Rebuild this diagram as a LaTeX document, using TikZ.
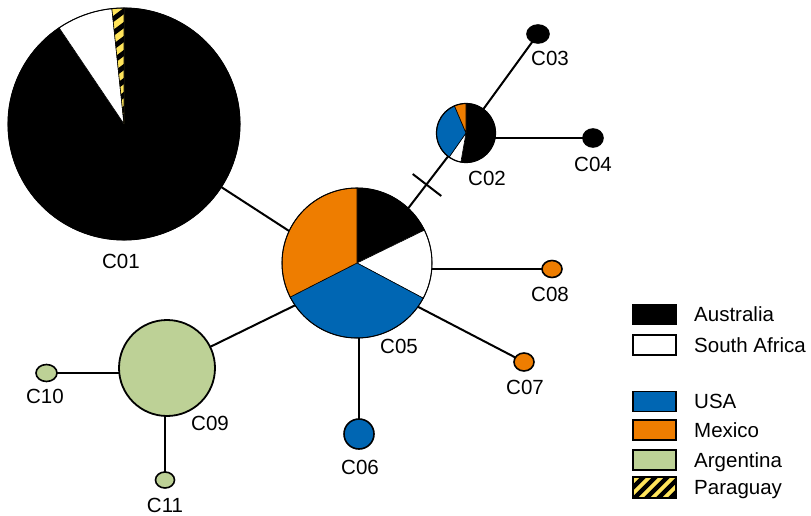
\documentclass[tikz,border=0pt]{standalone}
\usepackage{fontspec}
\setmainfont{Liberation Sans}
\usetikzlibrary{shapes.geometric,calc,backgrounds}
\definecolor{cblue}{RGB}{0,102,179}
\definecolor{corange}{RGB}{238,125,0}
\definecolor{cgreen}{RGB}{189,209,150}
\definecolor{cyellow}{RGB}{255,228,90}
\newcommand{\pieslice}[5]{\filldraw[fill=#5,draw=black,line width=0.6pt] (#1) -- ++(#3:#2) arc[start angle=#3,end angle=#4,radius=#2] -- cycle;}
\begin{document}
\begin{tikzpicture}[x=1pt,y=1pt,
  pienode/.style={circle,inner sep=0pt,minimum size=#1},
  hap/.style={ellipse,draw=black,line width=1.6pt,inner sep=0pt},
  edge/.style={line width=2pt},
  lab/.style={font=\fontsize{20.5}{24}\selectfont,inner sep=0pt},
  legbox/.style={draw=black,line width=1.2pt,minimum width=43pt,minimum height=20pt,inner sep=0pt},
  legtext/.style={font=\fontsize{20.5}{24}\selectfont,inner sep=0pt,anchor=base west}]
\useasboundingbox (0,0) rectangle (811,515);
% nodes
\node[pienode=232pt] (c01) at (124,391) {};
\node[pienode=59pt] (c02) at (466,382) {};
\node[hap,fill=black,minimum width=22pt,minimum height=18pt] (c03) at (538,481) {};
\node[hap,fill=black,minimum width=20pt,minimum height=18pt] (c04) at (593,377) {};
\node[pienode=150pt] (c05) at (357,252) {};
\node[hap,fill=cblue,minimum width=30pt,minimum height=30pt] (c06) at (359,81) {};
\node[hap,fill=corange,minimum width=20pt,minimum height=18pt] (c07) at (524,153) {};
\node[hap,fill=corange,minimum width=20pt,minimum height=17pt] (c08) at (552,246) {};
\node[circle,draw=black,line width=1.8pt,fill=cgreen,inner sep=0pt,minimum size=96pt] (c09) at (167,147) {};
\node[hap,fill=cgreen,minimum width=21pt,minimum height=17pt] (c10) at (46.5,142) {};
\node[hap,fill=cgreen,minimum width=19pt,minimum height=16pt] (c11) at (165,35) {};
\coordinate (hub) at (357,240);
% edges (behind nodes)
\begin{scope}[on background layer]
\draw[edge] (hub) -- (c01.center);
\draw[edge] (hub) -- (c02.center);
\draw[edge] (c06.center) -- (c06 |- hub);
\draw[edge] (hub) -- (c07.center);
\draw[edge] (c08.center) -- (c08 -| hub);
\draw[edge] (hub) -- (c09.center);
\draw[edge] (c02.center) -- (c03.center);
\draw[edge] (c04.center) -- (c04 -| c02);
\draw[edge] (c10.center) -- (c10 -| c09);
\draw[edge] (c11.center) -- (c11 |- c09);
\end{scope}
\coordinate (t1) at (412.7,341);
\coordinate (t2) at (441.3,319);
\draw[edge] (t1) -- (t2);
% pies
\pieslice{c01.center}{116}{124}{450}{black}
\pieslice{c01.center}{116}{96}{124}{white}
\begin{scope}
\clip (c01.center) -- ++(90:116) arc[start angle=90,end angle=96,radius=116] -- cycle;
\fill[cyellow] (100,380) rectangle (140,512);
\foreach \k in {0,...,11} \draw[line width=5pt] (100,360+\k*14) -- ++(40,30);
\end{scope}
\draw[line width=0.6pt] (c01.center) -- ++(90:116) arc[start angle=90,end angle=96,radius=116] -- cycle;
\draw[line width=1pt] (c01.center) circle[radius=116];
\pieslice{c02.center}{29.5}{-100}{90}{black}
\pieslice{c02.center}{29.5}{235}{260}{white}
\pieslice{c02.center}{29.5}{113}{235}{cblue}
\pieslice{c02.center}{29.5}{90}{113}{corange}
\draw[line width=1.2pt] (c02.center) circle[radius=29.5];
\pieslice{c05.center}{75}{26}{90}{black}
\pieslice{c05.center}{75}{-28}{26}{white}
\pieslice{c05.center}{75}{207}{332}{cblue}
\pieslice{c05.center}{75}{90}{207}{corange}
\draw[line width=1pt] (c05.center) circle[radius=75];
% labels
\node[lab] (l01) at (121,254) {C01};
\node[lab] (l02) at (487,337) {C02};
\node[lab] (l03) at (550,456.5) {C03};
\node[lab] (l04) at (593,350.5) {C04};
\node[lab] (l05) at (399,169) {C05};
\node[lab] (l06) at (360,48) {C06};
\node[lab] (l07) at (525,128) {C07};
\node[lab] (l08) at (550,221) {C08};
\node[lab] (l09) at (210,92) {C09};
\node[lab] (l10) at (45,119) {C10};
\node[lab] (l11) at (165,10) {C11};
% legend
\node[legbox,fill=black] (kA) at (654.5,200.5) {};
\node[legbox,fill=white] (kS) at (654.5,170) {};
\node[legbox,fill=cblue] (kU) at (654.5,113.5) {};
\node[legbox,fill=corange] (kM) at (654.5,85) {};
\node[legbox,fill=cgreen] (kR) at (654.5,55) {};
\node[legbox,fill=cyellow] (kP) at (654.5,27.5) {};
\begin{scope}
\clip (kP.south west) rectangle (kP.north east);
\foreach \k in {-3,...,4} \draw[line width=4.5pt] ($(kP.south west)+(\k*12,-2)$) -- ++(24,24);
\end{scope}
\draw[line width=1.2pt] (kP.south west) rectangle (kP.north east);
\node[legtext] at (694,193.2) {Australia};
\node[legtext] at (694,162.7) {South Africa};
\node[legtext] at (694,106.2) {USA};
\node[legtext] at (694,77.7) {Mexico};
\node[legtext] at (694,47.7) {Argentina};
\node[legtext] at (694,20.2) {Paraguay};
\end{tikzpicture}
\end{document}
